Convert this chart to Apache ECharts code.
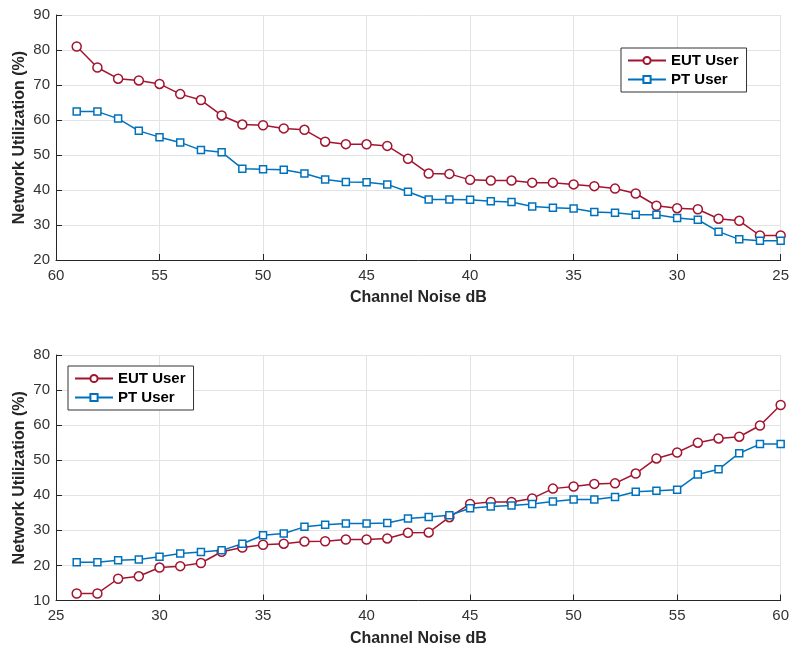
<!DOCTYPE html>
<html>
<head>
<meta charset="utf-8">
<script src="https://cdn.jsdelivr.net/npm/echarts@6/dist/echarts.min.js"></script>
<style>html,body{margin:0;padding:0;background:#fff}#c{width:792px;height:650px}</style>
</head>
<body>
<div id="c"></div>
<script>
// Top chart: channel noise from 59 down to 25
var topNoise = [59,58,57,56,55,54,53,52,51,50,49,48,47,46,45,44,43,42,41,40,39,38,37,36,35,34,33,32,31,30,29,28,27,26,25];
var topEUT = [81,75,71.8,71.3,70.3,67.4,65.7,61.3,58.7,58.5,57.6,57.2,53.8,53.1,53.05,52.6,48.9,44.7,44.6,42.9,42.7,42.7,42.1,42.1,41.6,41.1,40.4,39.0,35.5,34.8,34.5,31.8,31.2,27.0,27.0];
var topPT = [62.4,62.4,60.4,56.9,55.1,53.6,51.4,50.8,46.1,45.9,45.8,44.7,43.0,42.3,42.2,41.6,39.5,37.3,37.3,37.2,36.8,36.6,35.3,34.9,34.7,33.7,33.5,32.9,32.9,32.0,31.5,28.1,25.9,25.5,25.5];
// Bottom chart: channel noise from 26 up to 60
var botNoise = [26,27,28,29,30,31,32,33,34,35,36,37,38,39,40,41,42,43,44,45,46,47,48,49,50,51,52,53,54,55,56,57,58,59,60];
var botEUT = [12.0,12.0,16.2,16.9,19.4,19.8,20.7,23.9,25.1,25.9,26.2,26.8,26.9,27.4,27.4,27.7,29.3,29.4,33.75,37.55,38.1,38.1,39.1,41.9,42.5,43.25,43.4,46.2,50.5,52.2,55.0,56.2,56.7,59.9,65.75];
var botPT = [20.9,20.9,21.5,21.7,22.5,23.4,23.8,24.3,26.2,28.6,29.1,31.0,31.6,31.95,31.95,32.1,33.4,33.8,34.3,36.3,36.8,37.1,37.5,38.2,38.8,38.8,39.5,41.0,41.3,41.6,45.9,47.4,52.0,54.6,54.6];
var seriesNames = ['EUT User','PT User'];
var xName = 'Channel Noise dB';
var yName = 'Network Utilization (%)';

var FONT = '"Liberation Sans", Arial, Helvetica, sans-serif';
var RED = '#A2142F', BLUE = '#0072BD';

function zip(xs, ys){ return xs.map(function(x,i){ return [x, ys[i]]; }); }

function xAxisCfg(idx, inverse){
  return {
    gridIndex: idx, type: 'value', min: 25, max: 60, interval: 5, inverse: inverse,
    name: xName, nameLocation: 'middle', nameGap: 30,
    nameTextStyle: {fontFamily: FONT, fontSize: 16, fontWeight: 'bold', color: '#262626'},
    axisLine: {show: true, onZero: false, lineStyle: {color: '#262626', width: 1}},
    axisTick: {show: true, inside: true, length: 6, lineStyle: {color: '#262626'}},
    axisLabel: {fontFamily: FONT, fontSize: 15, color: '#333', margin: 8},
    splitLine: {show: true, lineStyle: {color: '#e3e3e3', width: 1}}
  };
}
function yAxisCfg(idx, min, max){
  return {
    gridIndex: idx, type: 'value', min: min, max: max, interval: 10,
    name: yName, nameLocation: 'middle', nameGap: 28, nameMoveOverlap: false,
    nameTextStyle: {fontFamily: FONT, fontSize: 16, fontWeight: 'bold', color: '#262626'},
    axisLine: {show: true, lineStyle: {color: '#262626', width: 1}},
    axisTick: {show: true, inside: true, length: 6, lineStyle: {color: '#262626'}},
    axisLabel: {fontFamily: FONT, fontSize: 15, color: '#333', margin: 6},
    splitLine: {show: true, lineStyle: {color: '#e3e3e3', width: 1}}
  };
}
function lineSeries(name, data, xi, yi, color, symbol, size){
  return {
    name: name, type: 'line', xAxisIndex: xi, yAxisIndex: yi, data: data,
    symbol: symbol, symbolSize: size, showSymbol: true,
    lineStyle: {color: color, width: 1.5},
    itemStyle: {color: '#fff', borderColor: color, borderWidth: 1.5},
    emphasis: {disabled: true}, animation: false
  };
}
var legendBase = {
  orient: 'vertical', backgroundColor: '#fff', borderColor: '#333', borderWidth: 1,
  borderRadius: 0, padding: [5, 8, 5, 6], itemGap: 4, itemWidth: 38, itemHeight: 9,
  textStyle: {fontFamily: FONT, fontSize: 15, fontWeight: 'bold', color: '#000'},
  selectedMode: false
};

var chart = echarts.init(document.getElementById('c'), null, {renderer: 'canvas'});
chart.setOption({
  backgroundColor: '#fff',
  animation: false,
  grid: [
    {left: 56, right: 9, top: 15, height: 245},
    {left: 56, right: 9, top: 355, height: 245.5}
  ],
  xAxis: [xAxisCfg(0, true), xAxisCfg(1, false)],
  yAxis: [yAxisCfg(0, 20, 90), yAxisCfg(1, 10, 80)],
  legend: [
    Object.assign({}, legendBase, {left: 621, top: 48, data: seriesNames}),
    Object.assign({}, legendBase, {left: 68, top: 366, data: seriesNames})
  ],
  series: [
    lineSeries(seriesNames[0], zip(topNoise, topEUT), 0, 0, RED, 'circle', 9),
    lineSeries(seriesNames[1], zip(topNoise, topPT), 0, 0, BLUE, 'rect', 7),
    lineSeries(seriesNames[0], zip(botNoise, botEUT), 1, 1, RED, 'circle', 9),
    lineSeries(seriesNames[1], zip(botNoise, botPT), 1, 1, BLUE, 'rect', 7)
  ]
});
</script>
</body>
</html>
